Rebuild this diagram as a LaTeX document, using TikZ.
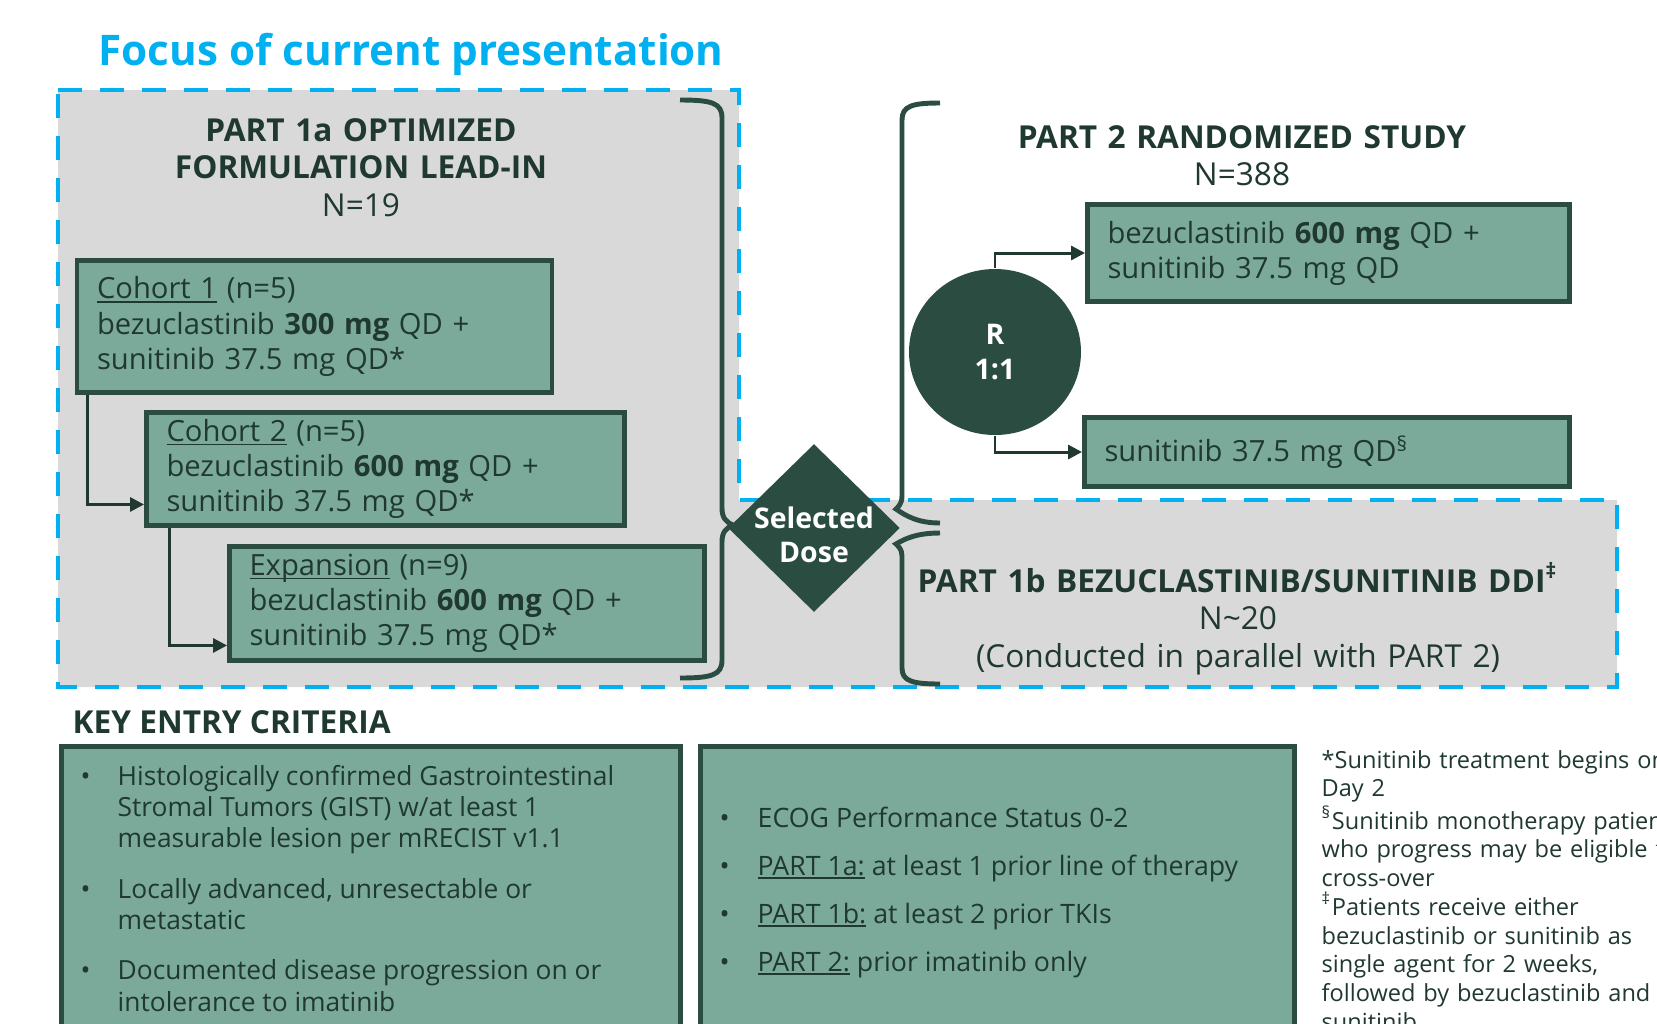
\documentclass[tikz,border=0pt]{standalone}
\usepackage{fontspec}
\setmainfont{Open Sans}
\usetikzlibrary{shapes.geometric,arrows.meta,positioning}

\definecolor{sage}{HTML}{7CAA9A}
\definecolor{pine}{HTML}{2B4C41}
\definecolor{inkgreen}{HTML}{1F3830}
\definecolor{panelgray}{HTML}{D9D9D9}
\definecolor{focusblue}{HTML}{00B0F0}

\newsavebox{\uwbox}
\newcommand{\uword}[1]{\sbox{\uwbox}{#1}\rlap{\rule[-1.1pt]{\wd\uwbox}{0.45pt}}\usebox{\uwbox}}
\newcommand{\lowered}[1]{\raisebox{-1.9pt}[\height][\depth]{#1}}

\begin{document}
\begin{tikzpicture}[
    x=0.1mm, y=-0.1mm,
    every node/.style={text=inkgreen, inner sep=0pt},
    armbox/.style={draw=pine, line width=1.4pt, fill=sage, inner xsep=2mm, align=left,
        font=\fontsize{8.3}{10}\selectfont},
    heading/.style={font=\fontsize{9}{10.8}\selectfont, align=center, text width=80mm},
    bullets/.style={font=\fontsize{7.5}{8.96}\selectfont},
    flow/.style={-{Triangle[length=1.4mm, width=1.4mm]}, line width=0.85pt, draw=inkgreen},
    brace/.style={line width=1.4pt, draw=pine},
    dashedge/.style={draw=focusblue, line width=0.4mm, dash pattern=on 2.4mm off 1.8mm},
    hub/.style={fill=pine, text=white, font=\bfseries\fontsize{8.1}{9.8}\selectfont, align=center}
]
\useasboundingbox (0,0) rectangle (1657,1023);

% panels
\fill[panelgray] (58,90) -- (739,90) -- (739,500) -- (1617,500) -- (1617,687) -- (58,687) -- cycle;
\draw[dashedge] (58,90) -- (739,90) -- (739,500) -- (1617,500) -- (1617,687) -- (58,687) -- cycle;

\node[font=\bfseries\fontsize{12}{14}\selectfont, text=focusblue, anchor=base west] (focus) at (98,65) {Focus of current presentation};

% headings
\node[heading, anchor=base] (p1a) at (361,141) {\textbf{PART 1a OPTIMIZED}\\\textbf{FORMULATION LEAD-IN}\\N=19};
\node[heading, anchor=base] (p2) at (1242,148) {\textbf{PART 2 RANDOMIZED STUDY}\\N=388};
\node[heading, anchor=base, text width=100mm] (p1b) at (1238,592) {\textbf{PART 1b BEZUCLASTINIB/SUNITINIB DDI\textsuperscript{‡}}\\N\textasciitilde20\\(Conducted in parallel with PART 2)};

% braces
\draw[brace] (680,100) .. controls (712,100) and (722,103) .. (722,118) -- (722,508)
    .. controls (722,518) and (726,522) .. (733,525) .. controls (726,528) and (722,532) .. (722,542)
    -- (722,660) .. controls (722,675) and (712,678) .. (680,678);
\draw[brace] (940,103) .. controls (912,103) and (902,106) .. (902,120) -- (902,496)
    .. controls (902,504) and (898,507) .. (896,509) .. controls (906,516) and (918,523) .. (940,523);
\draw[brace] (940,533) .. controls (918,533) and (906,538) .. (896,544)
    .. controls (898,546) and (902,549) .. (902,556) -- (902,668) .. controls (902,681) and (912,684) .. (940,684);

% part 1a cohorts
\node[armbox, text width=43.5mm, minimum height=13.2mm] (c1) at (314.5,326.5) {\uword{Cohort 1} (n=5)\\bezuclastinib \textbf{300 mg} QD +\\sunitinib 37.5 mg QD*};
\node[armbox, text width=43.8mm, minimum height=11.3mm] (c2) at (385.5,469) {\uword{Cohort 2} (n=5)\\bezuclastinib \textbf{600 mg} QD +\\sunitinib 37.5 mg QD*};
\node[armbox, text width=43.5mm, minimum height=11.4mm] (exp) at (467,603.5) {\uword{Expansion} (n=9)\\bezuclastinib \textbf{600 mg} QD +\\sunitinib 37.5 mg QD*};

\draw[flow] ([xshift=1.25mm]c1.south west) |- ([yshift=2.35mm]c2.south west);
\draw[flow] ([xshift=2.55mm]c2.south west) |- ([yshift=1.75mm]exp.south west);

% part 2 arms
\node[armbox, text width=44.2mm, minimum height=9.7mm] (arm1) at (1328.5,253) {bezuclastinib \textbf{600 mg} QD +\\sunitinib 37.5 mg QD};
\node[armbox, text width=44.5mm, minimum height=6.9mm] (arm2) at (1327,452) {sunitinib 37.5 mg QD\textsuperscript{§}};
\node[hub, shape=ellipse, minimum width=17.2mm, minimum height=16.6mm] (rnd) at (995,352) {R\\1:1};
\draw[flow] (rnd.north) |- (arm1.west);
\draw[flow] (rnd.south) |- (arm2.west);

\node[hub, shape=diamond, inner sep=-0.2mm, minimum width=17.2mm, minimum height=16.3mm] (dose) at (814,528) {\lowered{Selected}\\\lowered{Dose}};

% entry criteria
\node[font=\bfseries\fontsize{9}{10.8}\selectfont, anchor=base west] (keyhead) at (72,733) {KEY ENTRY CRITERIA};
\node[armbox, minimum width=61.9mm, minimum height=33.4mm] (crit1) at (371,913.25) {};
\node[armbox, minimum width=59.4mm, minimum height=33.4mm] (crit2) at (997.5,913.25) {};
\node[bullets, anchor=base west] (list1) at (80,785) {%
  \begin{tabular}[t]{@{}p{3.7mm}@{}l@{}}
  \textbullet & Histologically confirmed Gastrointestinal\\
   & Stromal Tumors (GIST) w/at least 1\\
   & measurable lesion per mRECIST v1.1\\[5.3pt]
  \textbullet & Locally advanced, unresectable or\\
   & metastatic\\[5.3pt]
  \textbullet & Documented disease progression on or\\
   & intolerance to imatinib
  \end{tabular}};
\node[bullets, font=\fontsize{7.6}{13.66}\selectfont, anchor=base west] (list2) at (719,827) {%
  \begin{tabular}[t]{@{}p{3.8mm}@{}l@{}}
  \textbullet & ECOG Performance Status 0-2\\
  \textbullet & \uword{PART 1a:} at least 1 prior line of therapy\\
  \textbullet & \uword{PART 1b:} at least 2 prior TKIs\\
  \textbullet & \uword{PART 2:} prior imatinib only
  \end{tabular}};

% footnotes
\node[font=\fontsize{6.7}{8.18}\selectfont, anchor=base west, text width=50mm, align=left] (notes) at (1321,768) {*Sunitinib treatment begins on\\Day 2\\\textsuperscript{§}Sunitinib monotherapy patients\\who progress may be eligible for\\cross-over\\\textsuperscript{‡}Patients receive either\\bezuclastinib or sunitinib as\\single agent for 2 weeks,\\followed by bezuclastinib and\\sunitinib};
\end{tikzpicture}
\end{document}
